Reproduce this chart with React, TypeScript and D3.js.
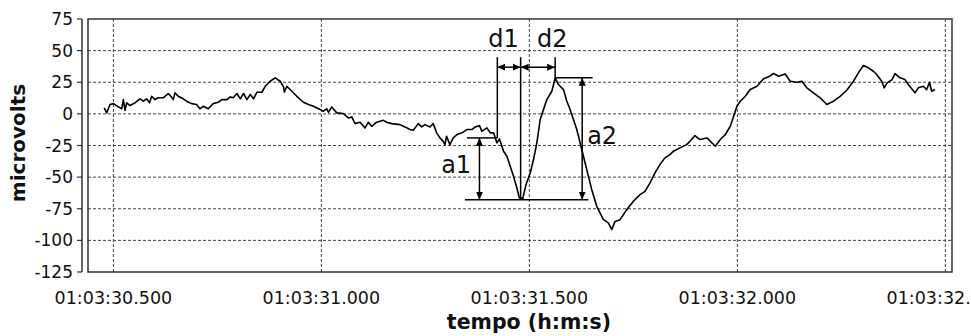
import React from "react";
import * as d3 from "d3";

// time in ms after 01:03:30.000, value in microvolts
const times = [478,484,492,500,512,520,524,528,532,540,552,564,572,580,587,592,600,608,620,632,638,644,648,656,668,676,688,700,708,716,728,740,752,761,773,781,788,797,805,813,821,829,837,845,857,865,877,889,901,909,911,917,929,941,957,969,981,997,1005,1013,1017,1025,1037,1053,1065,1073,1081,1093,1105,1113,1121,1133,1149,1157,1169,1189,1201,1213,1221,1233,1241,1249,1261,1269,1277,1285,1293,1297,1301,1309,1317,1326,1338,1350,1362,1370,1380,1386,1398,1406,1414,1422,1428,1438,1446,1454,1462,1470,1476,1484,1492,1502,1510,1518,1526,1534,1542,1554,1562,1570,1582,1590,1598,1606,1614,1626,1634,1642,1650,1662,1678,1690,1698,1706,1718,1734,1750,1766,1778,1790,1802,1814,1826,1838,1846,1862,1878,1886,1898,1910,1927,1947,1959,1971,1983,1991,1999,2007,2019,2031,2047,2063,2075,2087,2099,2115,2127,2143,2155,2167,2183,2199,2215,2231,2247,2263,2279,2291,2303,2315,2327,2335,2347,2353,2360,2372,2379,2391,2403,2411,2427,2435,2447,2455,2462,2467,2475];
const microvolts = [4.7,0.8,7.4,8.1,5.5,4.0,11.3,2.8,8.7,6.6,8.7,11.9,10.0,11.9,8.7,13.9,11.3,12.7,12.7,16.1,13.9,11.3,16.6,13.9,11.9,10.0,8.1,7.4,4.0,6.0,4.0,8.1,9.2,11.3,11.3,13.4,12.7,16.1,11.9,16.1,11.3,15.3,11.9,17.1,17.1,21.8,25.8,28.5,25.8,21.4,17.1,21.8,17.9,13.9,9.2,7.4,6.0,3.4,2.1,4.0,1.3,5.5,0.8,0.2,-3.2,-2.4,-7.7,-6.6,-11.1,-6.6,-9.8,-6.6,-5.1,-6.6,-7.7,-8.5,-10.3,-12.4,-13.0,-7.7,-10.3,-8.5,-10.3,-7.7,-15.0,-19.0,-21.7,-24.3,-17.7,-24.3,-19.0,-16.4,-15.0,-12.4,-12.4,-10.3,-9.3,-13.8,-11.1,-15.0,-15.0,-22.9,-19.8,-29.6,-33.5,-41.4,-49.4,-58.6,-66.4,-67.2,-55.9,-46.7,-36.1,-22.9,-4.5,3.4,11.3,17.9,28.5,23.2,19.2,10.0,3.4,-4.5,-12.4,-28.2,-38.8,-49.4,-59.9,-73.1,-83.6,-86.2,-91.5,-85.0,-83.6,-75.7,-69.1,-63.8,-61.2,-54.6,-46.7,-40.1,-34.8,-32.2,-29.6,-26.9,-24.3,-21.7,-17.2,-20.3,-19.0,-25.6,-20.3,-16.4,-9.8,-1.9,6.0,10.0,13.9,19.2,21.8,27.7,29.3,31.9,29.7,31.6,25.8,25.0,25.8,20.6,16.6,12.7,7.4,10.0,13.9,18.7,25.8,32.4,38.2,36.4,33.7,31.1,25.8,20.6,24.5,27.1,31.9,28.5,27.1,23.2,16.6,20.6,21.8,19.2,25.0,17.9,19.2];

const yTicks = [75, 50, 25, 0, -25, -50, -75, -100, -125];
const xTicks = [500, 1000, 1500, 2000, 2500];
const xDomain = [439, 2516];
const yDomain = [-125, 75];

// annotation anchors (ms, microvolts)
const tStart = 1423, tMin = 1479, tPeak = 1562;
const vStart = -19.0, vMin = -67.8, vPeak = 28.5;
const vArrowD = 36.9, vTop = 44.8;
const tArrowA1 = 1380, tArrowA2 = 1627;
const tLineA1 = 1350, tLineMin = 1345, tLineMinEnd = 1642, tLinePeakEnd = 1652;
const labels = [
  { text: "d1", t: 1438, v: 53.2 },
  { text: "d2", t: 1555, v: 53.2 },
  { text: "a1", t: 1324, v: -46.4 },
  { text: "a2", t: 1675, v: -23.5 },
];

const fmt = (ms: number) => {
  const s = 30 + Math.floor(ms / 1000);
  const rest = ms % 1000;
  return `01:03:${String(s).padStart(2, "0")}.${String(rest).padStart(3, "0")}`;
};

export default function App() {
  const W = 971, H = 336;
  const left = 88, right = 952, top = 19, bottom = 272;
  const x = d3.scaleLinear().domain(xDomain).range([left, right]);
  const y = d3.scaleLinear().domain(yDomain).range([bottom, top]);
  const data = times.map((t, i) => [t, microvolts[i]] as [number, number]);
  const line = d3.line<[number, number]>().x((d) => x(d[0])).y((d) => y(d[1]));
  const font = "'DejaVu Sans', sans-serif";
  const grid = "#444";
  const ann = { stroke: "#000", strokeWidth: 1.5 };
  return (
    <svg width={W} height={H} style={{ position: "absolute", left: 0, top: 0, background: "#fff" }} fontFamily={font}>
      <defs>
        <marker id="ah" viewBox="0 0 8 8" refX="8" refY="4" markerWidth="8" markerHeight="8" markerUnits="userSpaceOnUse" orient="auto-start-reverse">
          <path d="M0,0.5 L8,4 L0,7.5 z" fill="#000" />
        </marker>
      </defs>
      <rect x={0} y={0} width={W} height={H} fill="#fff" />
      {/* grid */}
      {yTicks.filter((v) => v > yDomain[0] && v < yDomain[1]).map((v) => (
        <line key={"gy" + v} x1={left} x2={right} y1={y(v)} y2={y(v)} stroke={grid} strokeWidth={1} strokeDasharray="3,2" />
      ))}
      {xTicks.map((t) => (
        <line key={"gx" + t} x1={x(t)} x2={x(t)} y1={top} y2={bottom} stroke={grid} strokeWidth={1} strokeDasharray="3,2" />
      ))}
      {/* frame */}
      <rect x={left} y={top} width={right - left} height={bottom - top} fill="none" stroke="#333" strokeWidth={1.5} />
      {/* y axis */}
      <line x1={82} x2={82} y1={top} y2={bottom} stroke="#333" strokeWidth={1.5} />
      {yTicks.map((v) => (
        <g key={"yt" + v}>
          <line x1={77} x2={82} y1={y(v)} y2={y(v)} stroke="#333" strokeWidth={1.2} />
          <text x={73} y={y(v)} dy="0.36em" textAnchor="end" fontSize={17} fill="#111">{v}</text>
        </g>
      ))}
      {xTicks.map((t) => (
        <text key={"xt" + t} x={x(t)} y={304} textAnchor="middle" fontSize={17.5} fill="#111">{fmt(t)}</text>
      ))}
      <text transform="translate(25,143) rotate(-90)" textAnchor="middle" fontSize={20} fontWeight="bold" fill="#111">microvolts</text>
      <text x={529} y={329} textAnchor="middle" fontSize={20.5} fontWeight="bold" fill="#111">tempo (h:m:s)</text>
      {/* signal */}
      <path d={line(data) || ""} fill="none" stroke="#000" strokeWidth={1.6} strokeLinejoin="round" />
      {/* annotations */}
      <line x1={x(tStart)} x2={x(tStart)} y1={y(vTop)} y2={y(vStart)} {...ann} />
      <line x1={x(tMin)} x2={x(tMin)} y1={y(vTop)} y2={y(vMin)} {...ann} />
      <line x1={x(tPeak)} x2={x(tPeak)} y1={y(vTop)} y2={y(vPeak)} {...ann} />
      <line x1={x(tStart)} x2={x(tMin)} y1={y(vArrowD)} y2={y(vArrowD)} {...ann} markerStart="url(#ah)" markerEnd="url(#ah)" />
      <line x1={x(tMin)} x2={x(tPeak)} y1={y(vArrowD)} y2={y(vArrowD)} {...ann} markerStart="url(#ah)" markerEnd="url(#ah)" />
      <line x1={x(tLineA1)} x2={x(tStart)} y1={y(vStart)} y2={y(vStart)} {...ann} />
      <line x1={x(tLineMin)} x2={x(tLineMinEnd)} y1={y(vMin)} y2={y(vMin)} {...ann} />
      <line x1={x(tPeak)} x2={x(tLinePeakEnd)} y1={y(vPeak)} y2={y(vPeak)} {...ann} />
      <line x1={x(tArrowA1)} x2={x(tArrowA1)} y1={y(vStart)} y2={y(vMin)} {...ann} markerStart="url(#ah)" markerEnd="url(#ah)" />
      <line x1={x(tArrowA2)} x2={x(tArrowA2)} y1={y(vPeak)} y2={y(vMin)} {...ann} markerStart="url(#ah)" markerEnd="url(#ah)" />
      {labels.map((l) => (
        <text key={l.text} x={x(l.t)} y={y(l.v)} textAnchor="middle" fontSize={24} fill="#111">{l.text}</text>
      ))}
    </svg>
  );
}
